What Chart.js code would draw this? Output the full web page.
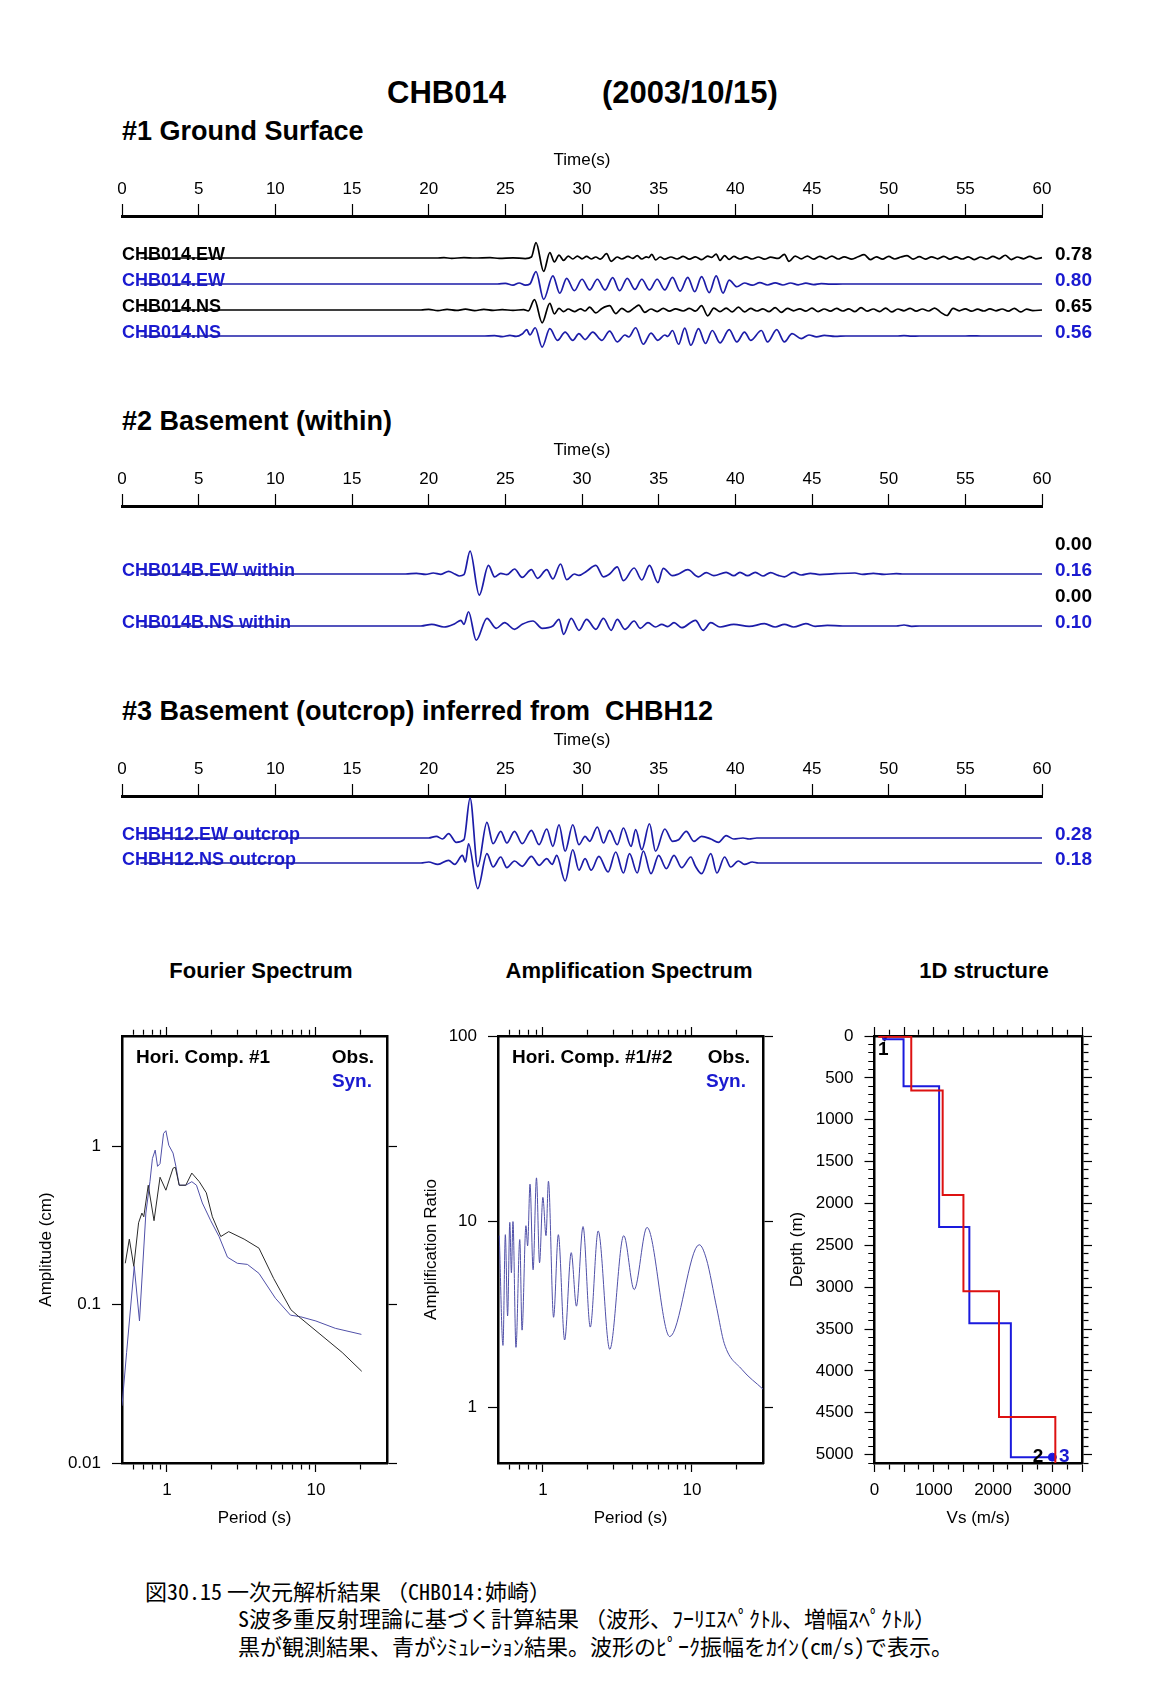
<!DOCTYPE html>
<html><head><meta charset="utf-8">
<script src="https://cdn.jsdelivr.net/npm/chart.js@4.4.0/dist/chart.umd.min.js"></script>
<style>
body{margin:0;background:#fff;width:1169px;height:1697px;position:relative;overflow:hidden;font-family:"Liberation Sans",Arial,Helvetica,sans-serif;color:#000;}
canvas{position:absolute;}
.t{position:absolute;white-space:nowrap;line-height:1;font-weight:bold;}
.c{position:absolute;white-space:nowrap;line-height:1;font-family:"Noto Sans CJK JP",sans-serif;font-size:22px;}
.h{font-feature-settings:"hwid" 1;}
</style></head><body>

<div class="t" style="left:387px;top:77px;font-size:31px;">CHB014</div>
<div class="t" style="left:602px;top:77px;font-size:31px;">(2003/10/15)</div>
<div class="t" style="left:122px;top:118px;font-size:27px;">#1 Ground Surface</div>
<div class="t" style="left:122px;top:408px;font-size:27px;">#2 Basement (within)</div>
<div class="t" style="left:122px;top:698px;font-size:27px;">#3 Basement (outcrop) inferred from&nbsp; CHBH12</div>
<div class="t" style="left:261px;top:960px;font-size:22px;transform:translateX(-50%);">Fourier Spectrum</div>
<div class="t" style="left:629px;top:960px;font-size:22px;transform:translateX(-50%);">Amplification Spectrum</div>
<div class="t" style="left:984px;top:960px;font-size:22px;transform:translateX(-50%);">1D structure</div>

<canvas id="w1" width="1169" height="220" style="left:0;top:146px"></canvas>
<canvas id="w2" width="1169" height="220" style="left:0;top:436px"></canvas>
<canvas id="w3" width="1169" height="180" style="left:0;top:726px"></canvas>
<canvas id="fourier" width="440" height="560" style="left:0;top:1000px"></canvas>
<canvas id="amp" width="440" height="560" style="left:380px;top:1000px"></canvas>
<canvas id="struct" width="400" height="560" style="left:760px;top:1000px"></canvas>

<div class="c" style="left:145px;top:1579px;">図<span class="h">30.15</span> 一次元解析結果 （<span class="h">CHB014:</span>姉崎）</div>
<div class="c" style="left:238px;top:1606px;"><span class="h">S</span>波多重反射理論に基づく計算結果 （波形、ﾌｰﾘｴｽﾍﾟｸﾄﾙ、増幅ｽﾍﾟｸﾄﾙ）</div>
<div class="c" style="left:238px;top:1634px;">黒が観測結果、青がｼﾐｭﾚｰｼｮﾝ結果。波形のﾋﾟｰｸ振幅をｶｲﾝ<span class="h">(cm/s)</span>で表示。</div>

<script>
// ===================== DATA =====================
// Waveforms: [time (s), velocity (cm/s)] at read-off peaks/troughs
const surfEwObs = [[1.2,0],[20.5,0],[21,0.02],[21.5,-0.02],[22.3,0.02],[23,0],[24,0.02],[24.6,-0.02],[25.5,0.01],[26.3,-0.03],[26.7,0.05],[27.0,0.78],[27.5,-0.68],[27.9,0.27],[28.2,-0.2],[28.5,0.15],[28.8,-0.12],[29.1,0.1],[29.4,-0.05],[29.7,0.1],[30.0,-0.04],[30.3,0.08],[30.6,-0.05],[30.9,0.05],[31.2,-0.06],[31.6,0.22],[31.9,-0.17],[32.3,0.05],[32.6,-0.05],[33.0,0.08],[33.3,-0.02],[33.6,0.12],[33.9,-0.05],[34.2,0.06],[34.35,0.02],[34.55,0.18],[34.8,-0.1],[35.1,0.05],[35.4,-0.06],[35.8,0.05],[36.2,-0.05],[36.6,0.08],[37.0,-0.06],[37.4,0.06],[37.8,-0.08],[38.2,0.1],[38.45,0.03],[38.75,0.2],[39.0,-0.12],[39.3,0.12],[39.6,-0.07],[39.9,0.08],[40.3,-0.05],[40.7,0.06],[41.1,-0.05],[41.5,0.05],[41.9,-0.06],[42.3,0.04],[42.8,-0.02],[43.2,0.18],[43.5,-0.17],[43.9,0.1],[44.3,-0.04],[44.7,0.1],[45.1,-0.06],[45.5,0.08],[45.9,-0.04],[46.3,0.1],[46.7,-0.05],[47.1,0.06],[47.6,-0.06],[48.0,0.06],[48.4,0.17],[48.8,-0.08],[49.2,0.06],[49.6,-0.06],[50.0,0.08],[50.4,-0.05],[50.8,0.05],[51.2,0.12],[51.6,-0.06],[52.0,0.07],[52.4,-0.06],[52.8,0.06],[53.2,-0.04],[53.6,0.08],[54.0,-0.06],[54.4,0.06],[54.8,-0.05],[55.2,0.06],[55.6,-0.08],[56.0,0.05],[56.4,-0.05],[56.8,0.08],[57.2,-0.04],[57.6,0.14],[58.0,-0.08],[58.4,0.05],[58.8,-0.04],[59.2,0.08],[59.6,-0.04],[60,0.02]];
const surfEwSyn = [[1.2,0],[24.5,0],[25.0,0.03],[25.5,-0.06],[25.9,0.05],[26.3,-0.06],[26.6,0.0],[27.0,0.63],[27.5,-0.78],[28.1,0.41],[28.55,-0.47],[29.0,0.29],[29.5,-0.34],[30.0,0.24],[30.5,-0.3],[31.0,0.24],[31.5,-0.3],[32.0,0.32],[32.45,-0.34],[32.95,0.29],[33.45,-0.27],[33.9,0.24],[34.4,-0.3],[34.9,0.24],[35.4,-0.3],[35.9,0.34],[36.4,-0.36],[36.9,0.34],[37.35,-0.39],[37.8,0.37],[38.3,-0.44],[38.75,0.41],[39.2,-0.46],[39.6,0.2],[40.1,-0.14],[40.6,0.05],[41.1,-0.06],[41.6,0.07],[42.1,-0.05],[42.6,0.06],[43.1,-0.05],[43.6,0.05],[44.1,-0.04],[44.6,0.04],[45.1,-0.03],[45.6,0.02],[46.2,-0.01],[47,0],[60,0]];
const surfNsObs = [[1.2,0],[19.5,0],[20,0.03],[20.6,-0.03],[21.2,0.03],[21.8,-0.02],[22.4,0.04],[23,-0.03],[23.6,0.03],[24.2,-0.02],[24.8,0.02],[25.5,-0.02],[26.2,0.02],[26.5,-0.04],[26.9,0.53],[27.4,-0.65],[27.9,0.34],[28.2,-0.2],[28.5,0.08],[28.8,-0.08],[29.1,0.05],[29.5,-0.08],[29.9,0.06],[30.2,-0.05],[30.5,0.15],[30.9,-0.15],[31.3,0.08],[31.8,0.22],[32.2,-0.18],[32.6,0.08],[33.0,-0.1],[33.4,0.1],[33.7,0.25],[34.1,-0.12],[34.5,0.05],[34.9,-0.08],[35.3,0.08],[35.7,-0.06],[36.1,0.06],[36.6,-0.05],[37.0,0.08],[37.4,-0.06],[37.8,0.22],[38.2,-0.3],[38.6,0.1],[39.0,-0.08],[39.4,0.1],[39.8,-0.1],[40.2,0.15],[40.6,-0.1],[41.0,0.08],[41.4,-0.05],[41.8,0.06],[42.2,-0.08],[42.6,0.12],[43.0,-0.12],[43.4,0.08],[43.8,-0.04],[44.2,0.06],[44.6,-0.06],[45.0,0.1],[45.4,-0.08],[45.8,0.05],[46.2,-0.06],[46.6,0.08],[47.0,-0.05],[47.4,0.06],[47.8,-0.08],[48.2,0.12],[48.6,-0.06],[49.0,0.05],[49.4,-0.08],[49.8,0.1],[50.2,-0.1],[50.6,0.05],[51.0,-0.04],[51.4,0.08],[51.8,-0.06],[52.2,0.05],[52.6,-0.05],[53.0,0.1],[53.4,-0.12],[53.8,-0.28],[54.2,0.08],[54.6,-0.04],[55.0,0.06],[55.4,-0.06],[55.8,0.04],[56.2,-0.05],[56.6,0.06],[57.0,-0.04],[57.4,0.05],[57.8,-0.06],[58.2,0.08],[58.6,-0.1],[59.0,0.04],[59.4,-0.03],[60,0]];
const surfNsSyn = [[1.2,0],[23.5,0],[24.3,0.02],[24.8,-0.03],[25.3,0.03],[25.7,-0.02],[26.1,0.1],[26.4,0.32],[26.6,0.05],[26.95,0.42],[27.4,-0.56],[27.9,0.37],[28.4,-0.22],[28.9,0.2],[29.4,-0.22],[29.8,0.12],[30.2,-0.18],[30.7,0.2],[31.3,-0.22],[31.8,0.25],[32.3,-0.3],[32.8,0.05],[33.05,-0.05],[33.5,0.42],[34.0,-0.42],[34.5,0.15],[34.95,-0.22],[35.4,0.05],[35.6,-0.02],[35.9,0.28],[36.3,-0.42],[36.7,0.4],[37.1,-0.47],[37.6,0.37],[38.05,-0.38],[38.5,0.28],[39.0,-0.35],[39.6,0.32],[40.1,-0.3],[40.6,0.2],[41.0,-0.22],[41.7,0.28],[42.1,-0.3],[42.7,0.32],[43.2,-0.3],[43.7,0.12],[44.3,-0.13],[44.8,0.05],[45.3,-0.04],[45.8,0.03],[46.5,-0.02],[47.2,0],[50.5,0],[51,0.02],[51.5,-0.01],[52,0],[55,0],[55.5,0.01],[56,0],[60,0]];
const withinEwSyn = [[1.2,0],[18.5,0],[19.2,0.004],[19.8,-0.003],[20.3,0.007],[20.8,-0.002],[21.3,0.019],[21.7,0.0],[22.0,-0.014],[22.3,-0.005],[22.7,0.16],[23.3,-0.148],[23.9,0.06],[24.3,-0.02],[24.7,0.005],[25.1,-0.005],[25.6,0.035],[26.1,-0.024],[26.7,0.03],[27.1,-0.03],[27.7,0.03],[28.1,-0.035],[28.6,0.07],[29.0,-0.04],[29.5,0.0],[29.8,-0.01],[30.3,0.02],[30.9,0.06],[31.4,-0.02],[31.8,0.0],[32.3,0.05],[32.7,-0.047],[33.4,0.042],[33.9,-0.042],[34.4,0.06],[34.95,-0.06],[35.3,0.04],[35.9,-0.012],[36.3,0.0],[36.9,0.03],[37.6,-0.02],[38.1,0.01],[38.6,-0.012],[39.4,0.012],[39.9,-0.012],[40.3,0.012],[40.8,-0.012],[41.3,0.012],[41.8,-0.014],[42.3,0.01],[42.8,-0.01],[43.2,-0.02],[43.8,0.012],[44.3,-0.007],[44.9,0.005],[45.5,-0.004],[46.5,0.002],[47.8,0.007],[48.3,-0.003],[49.0,0.004],[49.7,-0.003],[50.5,0.003],[51,0],[60,0]];
const withinNsSyn = [[1.2,0],[19.5,0],[20.2,0.012],[21.0,-0.007],[21.7,0.016],[22.1,0.04],[22.3,0.012],[22.6,0.1],[23.1,-0.1],[23.8,0.054],[24.4,-0.016],[24.95,0.023],[25.6,-0.023],[26.1,0.012],[26.8,0.035],[27.4,-0.016],[28.1,0.0],[28.5,0.047],[28.8,-0.058],[29.3,0.054],[29.8,-0.03],[30.3,0.047],[30.9,-0.023],[31.4,0.054],[31.9,-0.03],[32.3,0.047],[32.8,-0.023],[33.4,0.035],[33.8,-0.016],[34.3,0.023],[34.8,-0.007],[35.2,0.012],[35.6,-0.004],[36.0,0.023],[36.5,-0.012],[37.4,0.04],[37.9,-0.03],[38.4,0.023],[39.0,-0.007],[39.9,0.012],[40.9,-0.003],[41.9,0.016],[42.6,-0.007],[43.2,0.012],[43.8,-0.007],[44.6,0.016],[45.2,-0.002],[46,0.004],[47,0],[50.5,0],[51,0.007],[51.5,-0.002],[52,0],[60,0]];
const outcropEw = [[1.2,0],[20.0,0],[20.5,0.012],[20.9,-0.007],[21.3,0.03],[21.8,-0.03],[22.3,-0.012],[22.7,0.28],[23.2,-0.2],[23.8,0.11],[24.2,-0.04],[24.7,0.047],[25.1,-0.035],[25.6,0.047],[26.1,-0.04],[26.7,0.054],[27.2,-0.047],[27.7,0.063],[28.1,-0.058],[28.5,0.093],[28.9,-0.093],[29.4,0.093],[29.8,-0.047],[30.2,0.012],[30.5,-0.023],[31.0,0.077],[31.4,-0.035],[31.8,0.054],[32.3,-0.047],[32.7,0.07],[33.2,-0.058],[33.5,0.058],[33.9,-0.082],[34.4,0.1],[34.8,-0.093],[35.4,0.063],[35.9,-0.023],[36.3,-0.012],[36.8,0.047],[37.3,-0.023],[37.8,0.012],[38.4,-0.007],[38.9,-0.03],[39.4,0.016],[39.9,-0.007],[40.5,0.0],[40.9,-0.007],[41.4,0],[60,0]];
const outcropNs = [[1.2,0],[19.5,0],[20.0,0.007],[20.6,-0.01],[21.3,0.019],[21.7,-0.01],[22.2,0.054],[22.4,0.007],[22.6,0.135],[23.2,-0.18],[23.8,0.065],[24.2,-0.028],[24.7,0.042],[25.1,-0.033],[25.6,0.014],[26.1,-0.023],[26.7,0.047],[27.2,-0.016],[27.7,0.03],[28.05,-0.01],[28.35,0.054],[28.9,-0.126],[29.4,0.093],[29.8,-0.05],[30.2,0.03],[30.6,-0.05],[31.1,0.047],[31.7,-0.063],[32.2,0.077],[32.7,-0.07],[33.1,0.065],[33.6,-0.07],[34.0,0.084],[34.5,-0.075],[35.0,0.054],[35.5,-0.04],[36.0,0.054],[36.5,-0.033],[37.1,0.042],[37.4,-0.023],[37.8,-0.075],[38.4,0.065],[38.8,-0.07],[39.3,0.042],[39.7,-0.028],[40.2,0.014],[40.6,-0.01],[41.1,0.007],[41.5,0],[60,0]];

const surfNames = ['CHB014.EW','CHB014.EW','CHB014.NS','CHB014.NS'];
const surfPeaks = ['0.78','0.80','0.65','0.56'];
const withinNames = ['','CHB014B.EW within','','CHB014B.NS within'];
const withinPeaks = ['0.00','0.16','0.00','0.10'];
const outcropNames = ['CHBH12.EW outcrop','CHBH12.NS outcrop'];
const outcropPeaks = ['0.28','0.18'];

// Fourier spectrum (period s, amplitude cm)
const fourierObsPeriod = [0.526,0.56,0.60,0.646,0.68,0.70,0.75,0.82,0.90,0.985,1.10,1.14,1.21,1.34,1.47,1.65,1.84,2.02,2.3,2.6,3.3,4.15,5.2,6.8,7.7,10.5,15,20.3];
const fourierObsAmp    = [0.183,0.26,0.175,0.33,0.38,0.36,0.57,0.34,0.64,0.53,0.73,0.74,0.57,0.57,0.68,0.60,0.51,0.36,0.27,0.29,0.26,0.228,0.147,0.093,0.084,0.066,0.05,0.038];
const fourierSynPeriod = [0.5,0.537,0.604,0.655,0.723,0.77,0.80,0.835,0.866,0.90,0.95,0.985,1.03,1.10,1.15,1.21,1.34,1.47,1.58,1.73,1.97,2.24,2.55,2.97,3.47,4.15,5.35,6.75,7.9,10,13.5,20.2];
const fourierSynAmp    = [0.023,0.05,0.175,0.079,0.38,0.6,0.84,0.95,0.75,0.78,1.21,1.26,1.02,0.91,0.75,0.57,0.57,0.60,0.57,0.44,0.34,0.27,0.20,0.183,0.18,0.158,0.11,0.086,0.084,0.079,0.071,0.065];

// Amplification spectrum (period s, ratio)
const ampPeriod = [0.51,0.54,0.56,0.58,0.60,0.615,0.63,0.66,0.70,0.725,0.77,0.79,0.82,0.86,0.906,0.95,1.0,1.05,1.09,1.18,1.27,1.4,1.55,1.68,1.86,2.08,2.35,2.81,3.49,4.1,5.0,7.1,11.2,12.5,14.7,16.5,21.6,30];
const ampRatio  = [8.4,2.15,8.5,3.1,9.9,5.3,10,2.1,8.0,2.6,9.5,7.4,15.9,5.5,17.2,6.0,13.5,8.4,16.5,3.05,8.5,2.3,6.8,3.5,9.4,2.7,8.9,2.05,8.4,4.3,9.3,2.4,7.5,6.3,3.4,2.2,1.6,1.25];

// 1D structure layers (top depth m, Vs m/s)
const redLayerTop = [0,10,650,1900,3050,4550];
const redLayerVs  = [80,620,1150,1500,2100,3050];
const redBottom = 5100;
const blueLayerTop = [0,40,600,2280,3430,5030];
const blueLayerVs  = [150,490,1090,1600,2300,3000];

// Tick values
const periodTicks = [0.6,0.7,0.8,0.9,1,2,3,4,5,6,7,8,9,10,20];
const periodLabels = [1,10];
const fourierYTicks = [0.01,0.1,1];
const ampYTicks = [1,10,100];

// ===================== DRAWING =====================
const FONT = '"Liberation Sans", Arial, Helvetica, sans-serif';
Chart.defaults.font.family = FONT;
Chart.defaults.color = '#000';
const BLUE_TXT = '#1a1ad0', BLUE_LINE = '#1c1ca8';

const traceLabels = {
  id: 'traceLabels',
  beforeDatasetsDraw(chart, args, opts) {
    const {ctx, chartArea, scales: {y}} = chart;
    ctx.save();
    ctx.textBaseline = 'alphabetic';
    ctx.textAlign = 'left';
    opts.items.forEach(it => {
      const yy = y.getPixelForValue(it.slot) + 2;
      if (it.name) { ctx.font = 'bold 18px ' + FONT; ctx.fillStyle = it.color; ctx.fillText(it.name, chartArea.left, yy); }
      if (it.peak) { ctx.font = 'bold 19px ' + FONT; ctx.fillStyle = it.peakColor || it.color; ctx.fillText(it.peak, chartArea.right + 13, yy); }
    });
    ctx.restore();
  }
};

function waveChart(id, areaH, gain, traces, items) {
  return new Chart(document.getElementById(id), {
    type: 'scatter',
    data: { datasets: traces.map(tr => ({
      data: tr.pts.map(p => ({x: p[0], y: tr.slot - p[1] * gain})),
      showLine: true, borderColor: tr.color, borderWidth: 1.7, pointRadius: 0,
      cubicInterpolationMode: 'monotone', clip: 8
    }))},
    options: {
      responsive: false, animation: false, events: [],
      layout: {padding: {left: 122, right: 127, top: 0, bottom: 0}},
      plugins: {legend: {display: false}, tooltip: {enabled: false}, traceLabels: {items}},
      scales: {
        x: {type: 'linear', position: 'top', min: 0, max: 60,
          ticks: {stepSize: 5, font: {size: 17}, color: '#000', padding: 4, maxRotation: 0, autoSkip: false},
          grid: {drawOnChartArea: false, drawTicks: true, tickLength: 12, tickColor: '#000', tickWidth: 1.2},
          border: {display: true, color: '#000', width: 3},
          title: {display: true, text: 'Time(s)', font: {size: 17}, color: '#000', padding: {top: 4, bottom: 0}},
          afterFit(s) { s.height = 70; }
        },
        y: {type: 'linear', display: false, min: 0, max: areaH, reverse: true}
      }
    },
    plugins: [traceLabels]
  });
}

const SLOTS = [42, 68, 94, 120];
waveChart('w1', 150, 19.7, [
  {pts: surfEwObs, slot: SLOTS[0], color: '#000'},
  {pts: surfEwSyn, slot: SLOTS[1], color: BLUE_LINE},
  {pts: surfNsObs, slot: SLOTS[2], color: '#000'},
  {pts: surfNsSyn, slot: SLOTS[3], color: BLUE_LINE}
], surfNames.map((n, i) => ({slot: SLOTS[i], name: n, peak: surfPeaks[i], color: i % 2 ? BLUE_TXT : '#000'})));

waveChart('w2', 150, 142.7, [
  {pts: withinEwSyn, slot: SLOTS[1], color: BLUE_LINE},
  {pts: withinNsSyn, slot: SLOTS[3], color: BLUE_LINE}
], withinNames.map((n, i) => ({slot: SLOTS[i], name: n, peak: withinPeaks[i], color: i % 2 ? BLUE_TXT : '#000'})));

const SLOTS3 = [42, 67];
waveChart('w3', 110, 142.7, [
  {pts: outcropEw, slot: SLOTS3[0], color: BLUE_LINE},
  {pts: outcropNs, slot: SLOTS3[1], color: BLUE_LINE}
], outcropNames.map((n, i) => ({slot: SLOTS3[i], name: n, peak: outcropPeaks[i], color: BLUE_TXT})));

// ---------- frame axes helper ----------
function dashFor(pos, isMajor, tl, minorLen, bw) {
  if (isMajor) return [];
  const L = tl - bw / 2;
  if (pos === 'top' || pos === 'left') return [0, Math.max(L - minorLen, 0), minorLen, 100];
  return [minorLen, 100];
}
function frameAxis(pos, type, min, max, tickVals, labelFn, majorFn, size, extra = {}) {
  const horizontal = pos === 'top' || pos === 'bottom';
  const tl = extra.tl ?? 10;
  const bw = 2.5;
  return {
    type, position: pos, min, max, reverse: !!extra.reverse,
    afterBuildTicks(s) { s.ticks = tickVals.map(v => ({value: v})); },
    afterFit(s) { if (horizontal) s.height = size; else s.width = size; },
    ticks: {display: !!labelFn, autoSkip: false, maxRotation: 0, padding: extra.pad ?? 8,
      font: {size: 17}, color: '#000', callback: v => (labelFn ? labelFn(v) : '')},
    grid: {drawOnChartArea: false, drawTicks: true, tickLength: tl, tickWidth: 1.2, tickColor: '#000',
      tickBorderDash: ctx => dashFor(pos, majorFn(ctx.tick ? ctx.tick.value : 0), tl, extra.minor ?? 5, bw)},
    border: {display: true, color: '#000', width: bw},
    title: extra.title ? {display: true, text: extra.title, font: {size: 17}, color: '#000', padding: {top: 4, bottom: 4}} : {display: false}
  };
}

const boxText = {
  id: 'boxText',
  afterDraw(chart, args, opts) {
    const {ctx, chartArea: a} = chart;
    ctx.save();
    ctx.textBaseline = 'middle';
    opts.items.forEach(it => {
      ctx.font = 'bold 19px ' + FONT;
      ctx.fillStyle = it.color;
      ctx.textAlign = it.align;
      ctx.fillText(it.text, it.align === 'right' ? a.right + it.dx : a.left + it.dx, a.top + it.dy);
    });
    ctx.restore();
  }
};

const perLabel = v => (periodLabels.includes(v) ? String(v) : '');
const perMajor = v => periodLabels.includes(v);

// ---------- Fourier ----------
new Chart(document.getElementById('fourier'), {
  type: 'scatter',
  data: {datasets: [
    {data: fourierObsPeriod.map((p, i) => ({x: p, y: fourierObsAmp[i]})), showLine: true, borderColor: '#2a2a2a', borderWidth: 1, pointRadius: 0},
    {data: fourierSynPeriod.map((p, i) => ({x: p, y: fourierSynAmp[i]})), showLine: true, borderColor: '#5050a8', borderWidth: 1, pointRadius: 0}
  ]},
  options: {
    responsive: false, animation: false, events: [],
    layout: {padding: {left: 32, right: 41, top: 24, bottom: 27}},
    plugins: {legend: {display: false}, tooltip: {enabled: false}, boxText: {items: [
      {text: 'Hori. Comp. #1', dx: 14, dy: 22, align: 'left', color: '#000'},
      {text: 'Obs.', dx: -13, dy: 22, align: 'right', color: '#000'},
      {text: 'Syn.', dx: -15, dy: 46, align: 'right', color: BLUE_TXT}
    ]}},
    scales: {
      x: frameAxis('bottom', 'logarithmic', 0.5, 30, periodTicks, perLabel, perMajor, 70, {tl: 9, pad: 8, title: 'Period (s)'}),
      x2: frameAxis('top', 'logarithmic', 0.5, 30, periodTicks, null, perMajor, 12, {tl: 9}),
      y: frameAxis('left', 'logarithmic', 0.01, 5, fourierYTicks, v => String(v), () => true, 90, {tl: 10, pad: 11, title: 'Amplitude (cm)'}),
      y2: frameAxis('right', 'logarithmic', 0.01, 5, fourierYTicks, null, () => true, 12, {tl: 10})
    }
  },
  plugins: [boxText]
});

// ---------- Amplification ----------
new Chart(document.getElementById('amp'), {
  type: 'scatter',
  data: {datasets: [
    {data: ampPeriod.map((p, i) => ({x: p, y: ampRatio[i]})), showLine: true, borderColor: '#5050a8', borderWidth: 1, pointRadius: 0, cubicInterpolationMode: 'monotone'}
  ]},
  options: {
    responsive: false, animation: false, events: [],
    layout: {padding: {left: 37, right: 45, top: 24, bottom: 27}},
    plugins: {legend: {display: false}, tooltip: {enabled: false}, boxText: {items: [
      {text: 'Hori. Comp. #1/#2', dx: 14, dy: 22, align: 'left', color: '#000'},
      {text: 'Obs.', dx: -13, dy: 22, align: 'right', color: '#000'},
      {text: 'Syn.', dx: -17, dy: 46, align: 'right', color: BLUE_TXT}
    ]}},
    scales: {
      x: frameAxis('bottom', 'logarithmic', 0.5, 30, periodTicks, perLabel, perMajor, 70, {tl: 9, pad: 8, title: 'Period (s)'}),
      x2: frameAxis('top', 'logarithmic', 0.5, 30, periodTicks, null, perMajor, 12, {tl: 9}),
      y: frameAxis('left', 'logarithmic', 0.5, 100, ampYTicks, v => String(v), () => true, 81, {tl: 10, pad: 11, title: 'Amplification Ratio'}),
      y2: frameAxis('right', 'logarithmic', 0.5, 100, ampYTicks, null, () => true, 12, {tl: 10})
    }
  },
  plugins: [boxText]
});

// ---------- 1D structure ----------
function stepPath(tops, vs, bottom) {
  const pts = [];
  for (let i = 0; i < tops.length; i++) {
    pts.push({x: vs[i], y: tops[i]});
    const next = i + 1 < tops.length ? tops[i + 1] : bottom;
    if (next != null) pts.push({x: vs[i], y: next});
  }
  return pts;
}
const depthTicks = [], vsTicks = [];
for (let d = 0; d <= 5100; d += 100) depthTicks.push(d);
for (let v = 0; v <= 3500; v += 250) vsTicks.push(v);

const pointText = {
  id: 'pointText',
  afterDatasetsDraw(chart, args, opts) {
    const {ctx, scales: {x, y}} = chart;
    ctx.save();
    ctx.textAlign = 'center'; ctx.textBaseline = 'middle';
    ctx.font = 'bold 19px ' + FONT;
    opts.items.forEach(it => { ctx.fillStyle = it.color; ctx.fillText(it.text, x.getPixelForValue(it.x), y.getPixelForValue(it.y)); });
    ctx.restore();
  }
};

const blueLast = blueLayerTop.length - 1;
new Chart(document.getElementById('struct'), {
  type: 'scatter',
  data: {datasets: [
    {data: stepPath(redLayerTop, redLayerVs, redBottom), showLine: true, borderColor: '#dd1111', borderWidth: 2, pointRadius: 0},
    {data: stepPath(blueLayerTop, blueLayerVs, null), showLine: true, borderColor: '#1a1add', borderWidth: 2, pointRadius: 0},
    {data: [{x: 170, y: 15}], pointStyle: 'triangle', rotation: 180, pointRadius: 4, backgroundColor: '#000', borderColor: '#000'},
    {data: [{x: blueLayerVs[blueLast], y: blueLayerTop[blueLast]}], pointRadius: 4, backgroundColor: '#1a1add', borderColor: '#1a1add'}
  ]},
  options: {
    responsive: false, animation: false, events: [],
    layout: {padding: {left: 23.5, right: 66, top: 24, bottom: 27}},
    plugins: {legend: {display: false}, tooltip: {enabled: false}, pointText: {items: [
      {text: '1', x: 150, y: 170, color: '#000'},
      {text: '2', x: 2760, y: 5030, color: '#000'},
      {text: '3', x: 3200, y: 5030, color: BLUE_TXT}
    ]}},
    scales: {
      x: frameAxis('bottom', 'linear', 0, 3500, vsTicks, v => (v % 1000 === 0 && v <= 3000 ? String(v) : ''), v => v % 500 === 0, 70, {tl: 9, pad: 8, title: 'Vs (m/s)'}),
      x2: frameAxis('top', 'linear', 0, 3500, vsTicks, null, v => v % 500 === 0, 12, {tl: 9}),
      y: frameAxis('left', 'linear', 0, 5100, depthTicks, v => (v % 500 === 0 ? String(v) : ''), v => v % 500 === 0, 91, {tl: 10, pad: 11, reverse: true, title: 'Depth (m)'}),
      y2: frameAxis('right', 'linear', 0, 5100, depthTicks, null, v => v % 500 === 0, 12, {tl: 10, reverse: true})
    }
  },
  plugins: [pointText]
});
</script>
</body></html>
